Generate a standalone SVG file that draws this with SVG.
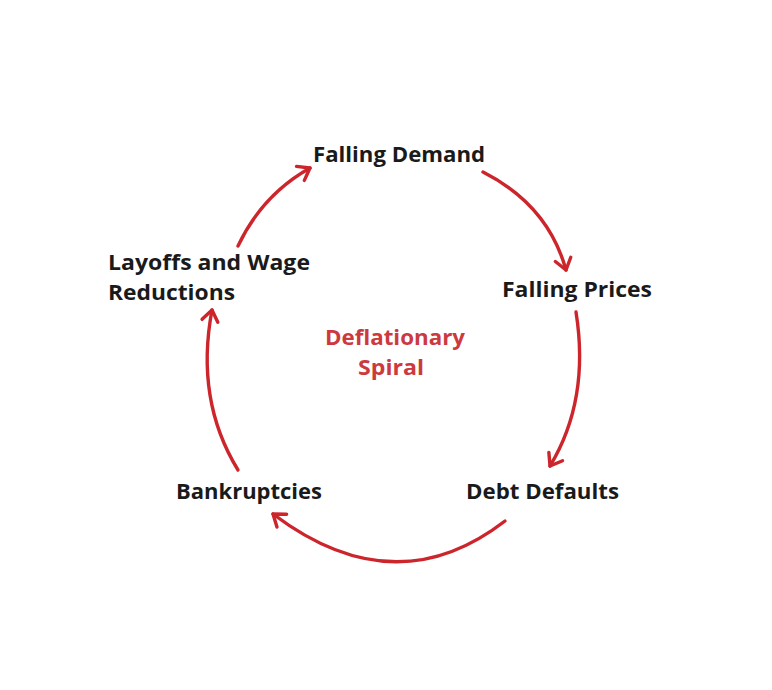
<svg xmlns="http://www.w3.org/2000/svg" width="772" height="690" viewBox="0 0 772 690">
<style>
.lbl{font-family:"Open Sans","Liberation Sans",sans-serif;font-weight:bold;font-size:22px;fill:#1a1a1a}
.ctr{font-family:"Open Sans","Liberation Sans",sans-serif;font-weight:bold;font-size:22px;fill:#cc3a40}
.arr{fill:none;stroke:#cc252c;stroke-width:3.4;stroke-linecap:round;marker-end:url(#ah)}
</style>
<defs>
<marker id="ah" markerUnits="userSpaceOnUse" markerWidth="30" markerHeight="30" viewBox="-15 -15 30 30" refX="0" refY="0" orient="auto">
<path d="M -11 -8 L 0 0 L -11 8" fill="none" stroke="#cc252c" stroke-width="3.4" stroke-linecap="round" stroke-linejoin="round"/>
</marker>
</defs>
<rect width="772" height="690" fill="#ffffff"/>
<g id="connectors">
<path class="arr" d="M 238 246 Q 262 195 310 168"/>
<path class="arr" d="M 483 172 Q 548 205 566 270"/>
<path class="arr" d="M 576 312 Q 590 400 550 466"/>
<path class="arr" d="M 505 521 Q 395 606 273 514"/>
<path class="arr" d="M 238 470 Q 195 400 212 310"/>
</g>
<g id="falling-demand"><text class="lbl" x="313" y="162" textLength="172" lengthAdjust="spacingAndGlyphs">Falling Demand</text></g>
<g id="falling-prices"><text class="lbl" x="502" y="297" textLength="150" lengthAdjust="spacingAndGlyphs">Falling Prices</text></g>
<g id="debt-defaults"><text class="lbl" x="466" y="499" textLength="153" lengthAdjust="spacingAndGlyphs">Debt Defaults</text></g>
<g id="bankruptcies"><text class="lbl" x="176" y="499" textLength="146" lengthAdjust="spacingAndGlyphs">Bankruptcies</text></g>
<g id="layoffs"><text class="lbl" x="108" y="270" textLength="202" lengthAdjust="spacingAndGlyphs">Layoffs and Wage</text><text class="lbl" x="108" y="300" textLength="127" lengthAdjust="spacingAndGlyphs">Reductions</text></g>
<g id="center"><text class="ctr" x="325" y="345" textLength="140" lengthAdjust="spacingAndGlyphs">Deflationary</text><text class="ctr" x="358" y="375" textLength="66" lengthAdjust="spacingAndGlyphs">Spiral</text></g>
</svg>
